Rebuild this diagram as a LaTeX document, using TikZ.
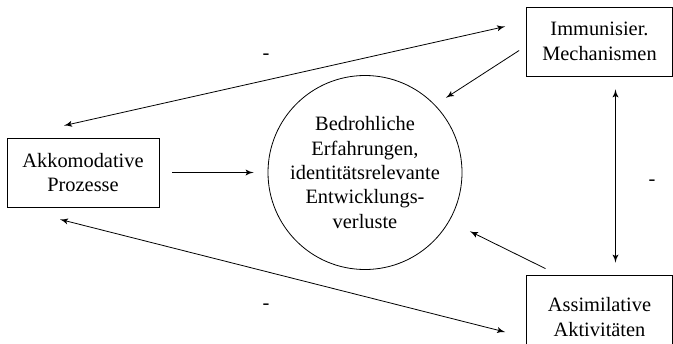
\documentclass[tikz,border=0pt]{standalone}
\usepackage{fontspec}
\setmainfont{Liberation Serif}
\newfontfamily\diagfont{Liberation Serif}
\usepackage{tikz}
\usetikzlibrary{shapes,arrows}
\tikzstyle{block} = [rectangle, draw, text centered, align=center,
minimum width=73pt, minimum height=34.5pt, inner sep=2pt]
\tikzstyle{line} = [draw, -latex']
\tikzstyle{dline} = [draw, latex'-latex']
\tikzset{
  txt/.style    = {font=\diagfont\fontsize{10.2}{12.2}\selectfont},
  threat/.style = {circle, draw, txt, align=center, minimum size=97pt, inner sep=0pt},
  minus/.style  = {txt, inner sep=0pt}
}
\begin{document}
\begin{tikzpicture}[x=0.5pt,y=-0.5pt]
	\useasboundingbox (0,0) rectangle (673,343);
	\clip (0,0) rectangle (673,343);
	% Place nodes
	\node [threat] (bedrErf) at (365,172.5) {Bedrohliche\\Erfahrungen,\\identitätsrelevante\\Entwicklungs-\\verluste};
	\node [block, txt, minimum width=76pt] (akkProz) at (83,172.5) {Akkomodative\\Prozesse};
	\node [block, txt] (immMech) at (599.5,41.5) {Immunisier.\\Mechanismen};
	\node [block, txt, minimum height=42pt] (assAkt) at (599.5,317) {Assimilative\\Aktivitäten};
	% Draw edges
	\path [line, shorten <=6.5pt, shorten >=7pt] (akkProz.east) -- (bedrErf.west);
	\path [line, shorten >=6.5pt] ([xshift=-3.5pt,yshift=-4.5pt]immMech.west) -- (bedrErf.44);
	\path [line, shorten >=11.5pt] ([xshift=-27pt,yshift=3pt]assAkt.north) -- (bedrErf.-30);
	\path [dline] ([xshift=-9.5pt,yshift=6pt]akkProz.north) -- ([xshift=-10.5pt,yshift=7.5pt]immMech.west);
	\path [dline] ([xshift=-11.5pt,yshift=-6pt]akkProz.south) -- ([xshift=-10.5pt,yshift=-7.5pt]assAkt.west);
	\path [dline, shorten <=6.5pt, shorten >=6pt] ([xshift=8pt]immMech.south) -- ([xshift=8pt]assAkt.north);
	% Labels
	\node [minus] (minTop) at (266,57) {-};
	\node [minus] (minBot) at (266,307) {-};
	\node [minus] (minRight) at (652,183) {-};
\end{tikzpicture}
\end{document}
